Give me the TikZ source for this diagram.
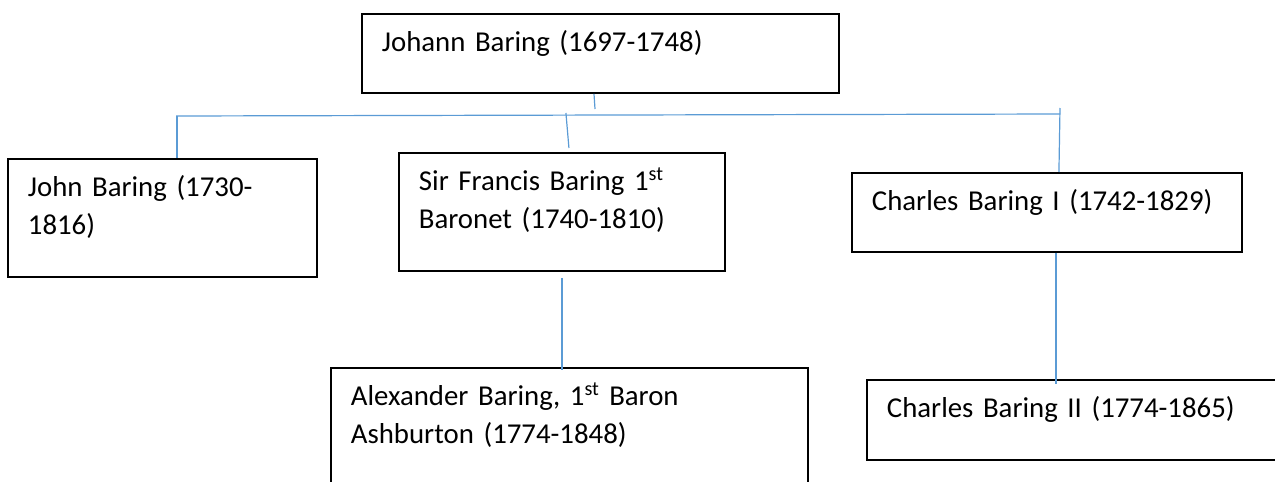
\documentclass[tikz,border=0pt]{standalone}
\usepackage{fontspec}
\setmainfont{Carlito}
\usepackage{tikz}
\usetikzlibrary{positioning,calc}
\definecolor{kinblue}{RGB}{91,155,213}
\tikzset{
  kin_box/.style = {draw=black, line width=1.4pt, rectangle, anchor=north west,
    align=left, inner xsep=15pt, inner ysep=14.25pt, text height=14.25pt,
    font=\fontsize{21.6}{28.5}\selectfont},% boite d'une personne
  kin_ln/.style = {draw=kinblue, line width=0.9pt}% trait de filiation
}

\begin{document}
\begin{tikzpicture}[x=0.75pt,y=-0.75pt]
        \path[use as bounding box, clip] (0,0) rectangle (1275,482);
        % generations
        \node [kin_box, text width=327.75pt, text depth=16.5pt] (johann) at (361,13)
            {Johann Baring (1697-1748)};
        \node [kin_box, text width=201.75pt, text depth=45.75pt] (john) at (7,158)
            {John Baring (1730-\\1816)};
        \node [kin_box, text width=214.5pt, text depth=45.75pt] (francis) at (398,152)
            {Sir Francis Baring 1\textsuperscript{st}\\Baronet (1740-1810)};
        \node [kin_box, text width=262.5pt, text depth=16.5pt] (charlesA) at (851,172)
            {Charles Baring I (1742-1829)};
        \node [kin_box, text width=327.75pt, text depth=45.75pt] (alexander) at (330,367)
            {Alexander Baring, 1\textsuperscript{st} Baron\\Ashburton (1774-1848)};
        \node [kin_box, text width=279pt, text depth=17.25pt] (charlesB) at (866,379)
            {Charles Baring II (1774-1865)};
        % traits
        \coordinate (bar_l) at (176,116);
        \coordinate (bar_r) at (1060,114);
        \coordinate (stub_e) at (595,109);
        \draw [kin_ln] (bar_l) -- (bar_r);
        \draw [kin_ln] ($(johann.south west)+(233,0)$) -- (stub_e);
        \draw [kin_ln] ($(bar_l)+(1,0)$) -- ($(john.north west)+(170,0)$);
        \draw [kin_ln] ($(francis.north)+(4,-39)$) -- ($(francis.north)+(7,-4)$);
        \draw [kin_ln] ($(bar_r)+(0,-6)$) -- ($(charlesA.north)+(12,0)$);
        \draw [kin_ln] ($(francis.south)+(0,6)$) -- ($(francis.south |- alexander.north)+(0,3)$);
        \draw [kin_ln] ($(charlesA.south)+(9,0)$) -- ($(charlesA.south |- charlesB.north)+(9,5)$);
\end{tikzpicture}
\end{document}
